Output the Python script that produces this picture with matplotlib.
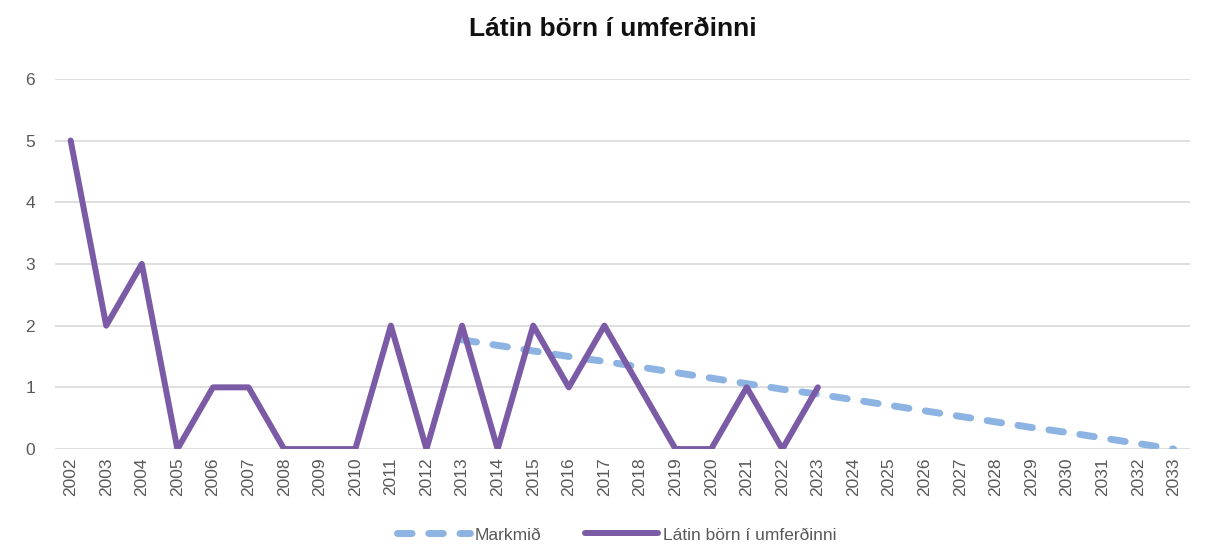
import matplotlib
matplotlib.use("Agg")
import matplotlib.pyplot as plt
import matplotlib.patheffects as pe

years = [str(y) for y in range(2002, 2034)]

# Látin börn í umferðinni, 2002-2023
deaths_years = [str(y) for y in range(2002, 2024)]
deaths = [5, 2, 3, 0, 1, 1, 0, 0, 0, 2, 0, 2, 0, 2, 1, 2, 1, 0, 0, 1, 0, 1]

# Markmið, 2013-2033
target_years = [str(y) for y in range(2013, 2034)]
target = [1.77, 1.68, 1.59, 1.50, 1.42, 1.33, 1.24, 1.15, 1.06, 0.97, 0.89,
          0.80, 0.71, 0.62, 0.53, 0.44, 0.35, 0.27, 0.18, 0.09, 0.0]

title = "Látin börn í umferðinni"
label_target = "Markmið"
label_deaths = "Látin börn í umferðinni"

plt.rcParams["font.family"] = ["Liberation Sans", "DejaVu Sans"]

fig = plt.figure(figsize=(12.14, 5.51), dpi=100)
ax = fig.add_axes([0.045, 0.185, 0.935, 0.672])

idx = {y: i for i, y in enumerate(years)}
tx = [idx[y] for y in target_years]
dx = [idx[y] for y in deaths_years]

shadow = [pe.SimplePatchShadow(offset=(0.8, -1.5), shadow_rgbFace="#8a8a8a", alpha=0.35), pe.Normal()]

ax.plot(tx, target, color="#8db3e2", lw=5.0, linestyle=(0, (2.1, 2.4)),
        dash_capstyle="round", solid_capstyle="round", label=label_target,
        path_effects=shadow, zorder=3)
ax.plot(dx, deaths, color="#7b5ba6", lw=4.3, solid_joinstyle="round",
        solid_capstyle="round", label=label_deaths, zorder=4)

ax.set_xlim(-0.45, len(years) - 0.55)
ax.set_ylim(0, 6)
ax.set_yticks(range(0, 7))
ax.set_xticks(range(len(years)))
ax.set_xticklabels(years, rotation=90)
ax.tick_params(axis="both", length=0, labelsize=12.5, colors="#595959", pad=6)
ax.tick_params(axis="y", pad=14)
ax.grid(axis="y", color="#d9d9d9", lw=1.2)
ax.set_axisbelow(True)
for s in ax.spines.values():
    s.set_visible(False)

fig.suptitle(title, x=0.505, y=0.97, fontsize=19, fontweight="bold", color="#111111")

leg = fig.legend(loc="lower center", bbox_to_anchor=(0.508, -0.013), ncol=2, frameon=False,
                 fontsize=12.5, handlelength=4.2, columnspacing=2.5, handletextpad=0.3)
for t in leg.get_texts():
    t.set_color("#595959")

fig.savefig("out.png", dpi=100, facecolor="white")
